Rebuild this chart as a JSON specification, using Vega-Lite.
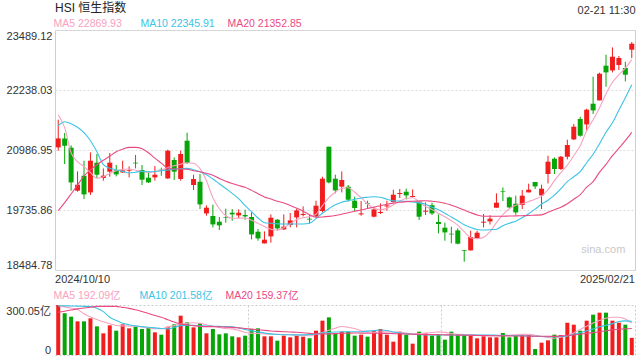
{
"$schema": "https://vega.github.io/schema/vega-lite/v6.json",
"padding": {"left": 5, "right": 6, "top": 1, "bottom": 5},
"background": "white",
"title": {"text": "02-21 11:30", "anchor": "end", "fontSize": 11, "fontWeight": "normal", "color": "#333", "offset": -14},
"datasets": {"hsi": [
{"d":"2024/10/10","o":21041.2,"h":21618.8,"l":20972.4,"c":21228.8,"v":300.05,"p5":21723,"p10":21494,"p20":19721,"v5":295.8,"v10":295.8,"v20":255.6},
{"d":"2024/10/14","o":21228.8,"h":21341.4,"l":20695.0,"c":21076.6,"v":250,"p5":21452,"p10":21577,"p20":19888,"v5":288.6,"v10":295,"v20":262.8},
{"d":"2024/10/15","o":21034.9,"h":21082.9,"l":20138.3,"c":20311.4,"v":230,"p5":20931,"p10":21535,"p20":20070,"v5":282,"v10":294,"v20":270},
{"d":"2024/10/16","o":20138.3,"h":20540.7,"l":20117.5,"c":20263.4,"v":202,"p5":20743,"p10":21462,"p20":20257,"v5":273,"v10":293.4,"v20":276.6},
{"d":"2024/10/17","o":20451.1,"h":20763.8,"l":19965.2,"c":20061.2,"v":202,"p5":20639,"p10":21348,"p20":20445,"v5":247,"v10":292,"v20":282},
{"d":"2024/10/18","o":20102.9,"h":20936.9,"l":20048.7,"c":20763.8,"v":220,"p5":20514,"p10":21181,"p20":20572,"v5":227.4,"v10":291,"v20":286.8},
{"d":"2024/10/21","o":20722.1,"h":20903.5,"l":20403.1,"c":20471.9,"v":172,"p5":20399,"p10":20952,"p20":20680,"v5":213,"v10":281,"v20":291.6},
{"d":"2024/10/22","o":20403.1,"h":20603.3,"l":20346.8,"c":20451.1,"v":130,"p5":20430,"p10":20680,"p20":20774,"v5":199.8,"v10":260,"v20":291.6},
{"d":"2024/10/23","o":20534.5,"h":20924.4,"l":20430.2,"c":20722.1,"v":178,"p5":20503,"p10":20608,"p20":20858,"v5":187.8,"v10":227,"v20":291.6},
{"d":"2024/10/24","o":20561.6,"h":20674.2,"l":20436.5,"c":20478.2,"v":146,"p5":20555,"p10":20576,"p20":20952,"v5":177,"v10":207.6,"v20":291.6},
{"d":"2024/10/25","o":20519.9,"h":20763.8,"l":20507.4,"c":20561.6,"v":184,"p5":20587,"p10":20541,"p20":21004,"v5":174.6,"v10":191,"v20":286},
{"d":"2024/10/28","o":20555.3,"h":20645.0,"l":20415.6,"c":20569.9,"v":160,"p5":20591,"p10":20507,"p20":21041,"v5":173.4,"v10":182,"v20":280},
{"d":"2024/10/29","o":20722.1,"h":20882.7,"l":20603.3,"c":20707.5,"v":170,"p5":20566,"p10":20524,"p20":21041,"v5":172.2,"v10":174.6,"v20":272},
{"d":"2024/10/30","o":20569.9,"h":20674.2,"l":20257.2,"c":20367.7,"v":156,"p5":20541,"p10":20541,"p20":21014,"v5":168,"v10":170.4,"v20":261},
{"d":"2024/10/31","o":20409.4,"h":20534.5,"l":20298.9,"c":20311.4,"v":162,"p5":20520,"p10":20535,"p20":20931,"v5":162.6,"v10":166.8,"v20":249},
{"d":"2024/11/01","o":20415.6,"h":20653.3,"l":20346.8,"c":20471.9,"v":136,"p5":20535,"p10":20539,"p20":20816,"v5":157.8,"v10":163,"v20":237.6},
{"d":"2024/11/04","o":20576.2,"h":20617.9,"l":20451.1,"c":20561.6,"v":122,"p5":20566,"p10":20555,"p20":20712,"v5":157.8,"v10":159,"v20":226},
{"d":"2024/11/05","o":20394.8,"h":20993.2,"l":20382.3,"c":20972.4,"v":170,"p5":20624,"p10":20570,"p20":20608,"v5":167.4,"v10":157,"v20":212},
{"d":"2024/11/06","o":20778.4,"h":20832.6,"l":20361.4,"c":20534.5,"v":184,"p5":20660,"p10":20587,"p20":20591,"v5":176.4,"v10":166,"v20":198},
{"d":"2024/11/07","o":20382.3,"h":20972.4,"l":20346.8,"c":20903.5,"v":236,"p5":20691,"p10":20597,"p20":20591,"v5":186,"v10":176.4,"v20":186},
{"d":"2024/11/08","o":21180.9,"h":21347.7,"l":20695.0,"c":20715.9,"v":196,"p5":20722,"p10":20603,"p20":20587,"v5":190.2,"v10":179.4,"v20":181},
{"d":"2024/11/11","o":20257.2,"h":20471.9,"l":20152.9,"c":20382.3,"v":166,"p5":20712,"p10":20576,"p20":20555,"v5":193.8,"v10":177.6,"v20":176},
{"d":"2024/11/12","o":20326.0,"h":20486.5,"l":19756.7,"c":19852.7,"v":190,"p5":20597,"p10":20535,"p20":20535,"v5":190.8,"v10":175.8,"v20":171.6},
{"d":"2024/11/13","o":19665.0,"h":19831.8,"l":19617.0,"c":19783.8,"v":130,"p5":20347,"p10":20472,"p20":20503,"v5":181.8,"v10":174,"v20":170},
{"d":"2024/11/14","o":19610.8,"h":19846.4,"l":19373.1,"c":19435.6,"v":156,"p5":19992,"p10":20382,"p20":20462,"v5":172.8,"v10":172.8,"v20":170},
{"d":"2024/11/15","o":19491.9,"h":19589.9,"l":19318.9,"c":19414.8,"v":124,"p5":19763,"p10":20284,"p20":20393,"v5":165,"v10":171.6,"v20":168.6},
{"d":"2024/11/18","o":19581.6,"h":19763.0,"l":19471.1,"c":19569.1,"v":130,"p5":19617,"p10":20184,"p20":20336,"v5":159,"v10":170.4,"v20":167.4},
{"d":"2024/11/19","o":19679.6,"h":19756.7,"l":19512.8,"c":19644.1,"v":112,"p5":19565,"p10":20082,"p20":20288,"v5":156.6,"v10":169.8,"v20":166},
{"d":"2024/11/20","o":19623.3,"h":19748.4,"l":19569.1,"c":19679.6,"v":106,"p5":19565,"p10":19972,"p20":20247,"v5":147.6,"v10":162.6,"v20":162.6},
{"d":"2024/11/21","o":19631.6,"h":19742.1,"l":19533.6,"c":19602.4,"v":116,"p5":19569,"p10":19826,"p20":20209,"v5":135,"v10":153,"v20":159},
{"d":"2024/11/22","o":19589.9,"h":19685.8,"l":19122.9,"c":19227.1,"v":156,"p5":19523,"p10":19700,"p20":20145,"v5":130.8,"v10":144.6,"v20":155.4},
{"d":"2024/11/25","o":19283.4,"h":19339.7,"l":19095.8,"c":19143.7,"v":160,"p5":19457,"p10":19569,"p20":20076,"v5":129,"v10":138.6,"v20":151.8},
{"d":"2024/11/26","o":19039.5,"h":19289.7,"l":19039.5,"c":19116.6,"v":112,"p5":19392,"p10":19471,"p20":20009,"v5":126.6,"v10":132,"v20":147.6},
{"d":"2024/11/27","o":19185.4,"h":19644.1,"l":19054.1,"c":19575.3,"v":112,"p5":19336,"p10":19461,"p20":19965,"v5":124.8,"v10":126.6,"v20":144},
{"d":"2024/11/28","o":19533.6,"h":19548.2,"l":19318.9,"c":19352.2,"v":86,"p5":19315,"p10":19446,"p20":19919,"v5":123.6,"v10":124.2,"v20":141.6},
{"d":"2024/11/29","o":19331.4,"h":19644.1,"l":19318.9,"c":19387.7,"v":116,"p5":19367,"p10":19444,"p20":19882,"v5":123,"v10":121.8,"v20":139.8},
{"d":"2024/12/02","o":19423.1,"h":19673.3,"l":19373.1,"c":19519.0,"v":106,"p5":19450,"p10":19444,"p20":19832,"v5":121.8,"v10":121.2,"v20":138},
{"d":"2024/12/03","o":19581.6,"h":19756.7,"l":19373.1,"c":19727.5,"v":116,"p5":19538,"p10":19444,"p20":19773,"v5":120,"v10":120.6,"v20":136.8},
{"d":"2024/12/04","o":19631.6,"h":19811.0,"l":19602.4,"c":19652.5,"v":110,"p5":19575,"p10":19444,"p20":19711,"v5":118.2,"v10":120.6,"v20":133.8},
{"d":"2024/12/05","o":19554.5,"h":19631.6,"l":19456.5,"c":19539.9,"v":100,"p5":19596,"p10":19461,"p20":19638,"v5":115.8,"v10":123,"v20":129.6},
{"d":"2024/12/06","o":19602.4,"h":19929.8,"l":19581.6,"c":19825.5,"v":146,"p5":19648,"p10":19555,"p20":19586,"v5":124.2,"v10":125.4,"v20":126.6},
{"d":"2024/12/09","o":19715.0,"h":20430.2,"l":19685.8,"c":20388.5,"v":206,"p5":19826,"p10":19669,"p20":19590,"v5":135.6,"v10":132.6,"v20":126},
{"d":"2024/12/10","o":21055.8,"h":21055.8,"l":20290.5,"c":20311.4,"v":226,"p5":19992,"p10":19763,"p20":19602,"v5":148.2,"v10":135,"v20":127},
{"d":"2024/12/11","o":20388.5,"h":20471.9,"l":20082.0,"c":20144.6,"v":132,"p5":20107,"p10":19846,"p20":19621,"v5":160.8,"v10":138,"v20":128.4},
{"d":"2024/12/12","o":20221.7,"h":20540.7,"l":20102.9,"c":20361.4,"v":140,"p5":20190,"p10":19899,"p20":19648,"v5":171,"v10":139.8,"v20":130},
{"d":"2024/12/13","o":20221.7,"h":20257.2,"l":19908.9,"c":19950.7,"v":140,"p5":20201,"p10":19930,"p20":19680,"v5":166.8,"v10":139.8,"v20":131.4},
{"d":"2024/12/16","o":19929.8,"h":20013.2,"l":19715.0,"c":19777.6,"v":116,"p5":20107,"p10":19961,"p20":19711,"v5":159,"v10":139.8,"v20":132},
{"d":"2024/12/17","o":19644.1,"h":19923.5,"l":19617.0,"c":19665.0,"v":122,"p5":19992,"p10":19986,"p20":19736,"v5":145.2,"v10":139.8,"v20":131.4},
{"d":"2024/12/18","o":19873.5,"h":19929.8,"l":19777.6,"c":19861.0,"v":110,"p5":19861,"p10":20001,"p20":19767,"v5":140.4,"v10":143.4,"v20":131},
{"d":"2024/12/19","o":19596.2,"h":19804.7,"l":19581.6,"c":19748.4,"v":146,"p5":19773,"p10":20013,"p20":19794,"v5":135.6,"v10":146.4,"v20":130.4},
{"d":"2024/12/20","o":19673.3,"h":19873.5,"l":19652.5,"c":19694.2,"v":156,"p5":19742,"p10":20003,"p20":19826,"v5":138,"v10":150,"v20":130.2},
{"d":"2024/12/23","o":19811.0,"h":19929.8,"l":19721.3,"c":19831.8,"v":122,"p5":19773,"p10":19961,"p20":19857,"v5":139.8,"v10":147,"v20":129.6},
{"d":"2024/12/24","o":19902.7,"h":20159.2,"l":19888.1,"c":20054.9,"v":80,"p5":19846,"p10":19926,"p20":19880,"v5":138,"v10":138,"v20":128.4},
{"d":"2024/12/27","o":20069.5,"h":20173.8,"l":19986.1,"c":20090.4,"v":140,"p5":19919,"p10":19922,"p20":19896,"v5":136.2,"v10":132.6,"v20":127.2},
{"d":"2024/12/30","o":20117.5,"h":20180.0,"l":19956.9,"c":20040.3,"v":122,"p5":19982,"p10":19915,"p20":19911,"v5":131.4,"v10":127.2,"v20":126},
{"d":"2024/12/31","o":20007.0,"h":20165.4,"l":19998.6,"c":20027.8,"v":68,"p5":19992,"p10":19903,"p20":19917,"v5":126.6,"v10":124.2,"v20":124.8},
{"d":"2025/01/02","o":19915.2,"h":19929.8,"l":19527.4,"c":19596.2,"v":140,"p5":19909,"p10":19884,"p20":19924,"v5":128.4,"v10":122.4,"v20":123.6},
{"d":"2025/01/03","o":19700.4,"h":19894.4,"l":19631.6,"c":19721.3,"v":130,"p5":19809,"p10":19857,"p20":19930,"v5":131.4,"v10":120.6,"v20":123},
{"d":"2025/01/06","o":19836.0,"h":19888.1,"l":19631.6,"c":19665.0,"v":116,"p5":19746,"p10":19794,"p20":19919,"v5":135,"v10":120,"v20":122.4},
{"d":"2025/01/07","o":19485.7,"h":19644.1,"l":19248.0,"c":19444.0,"v":126,"p5":19669,"p10":19742,"p20":19901,"v5":138.6,"v10":120,"v20":121.8},
{"d":"2025/01/08","o":19366.8,"h":19471.1,"l":19095.8,"c":19268.8,"v":92,"p5":19596,"p10":19669,"p20":19878,"v5":135.6,"v10":120,"v20":121},
{"d":"2025/01/09","o":19241.7,"h":19387.7,"l":19039.5,"c":19227.1,"v":140,"p5":19513,"p10":19590,"p20":19836,"v5":129,"v10":120,"v20":120},
{"d":"2025/01/10","o":19310.5,"h":19352.2,"l":19018.6,"c":19033.2,"v":124,"p5":19419,"p10":19513,"p20":19788,"v5":124.8,"v10":120,"v20":119.4},
{"d":"2025/01/13","o":18901.8,"h":18901.8,"l":18657.9,"c":18887.2,"v":122,"p5":19283,"p10":19429,"p20":19734,"v5":123,"v10":120,"v20":118.8},
{"d":"2025/01/14","o":18893.5,"h":19304.3,"l":18893.5,"c":19172.9,"v":116,"p5":19158,"p10":19373,"p20":19680,"v5":121.2,"v10":120,"v20":118},
{"d":"2025/01/15","o":19143.7,"h":19304.3,"l":19143.7,"c":19262.6,"v":100,"p5":19138,"p10":19331,"p20":19634,"v5":119.4,"v10":120,"v20":117},
{"d":"2025/01/16","o":19471.1,"h":19652.5,"l":19373.1,"c":19491.9,"v":112,"p5":19165,"p10":19319,"p20":19607,"v5":118.2,"v10":120,"v20":116.4},
{"d":"2025/01/17","o":19498.2,"h":19627.5,"l":19433.6,"c":19554.5,"v":106,"p5":19283,"p10":19325,"p20":19607,"v5":115.8,"v10":120,"v20":115.8},
{"d":"2025/01/20","o":19783.8,"h":20082.0,"l":19783.8,"c":19888.1,"v":106,"p5":19471,"p10":19336,"p20":19607,"v5":115.8,"v10":118.8,"v20":115.2},
{"d":"2025/01/21","o":20123.7,"h":20207.1,"l":19923.5,"c":20111.2,"v":132,"p5":19638,"p10":19409,"p20":19607,"v5":117,"v10":118,"v20":114.6},
{"d":"2025/01/22","o":19998.6,"h":20013.2,"l":19777.6,"c":19790.1,"v":106,"p5":19763,"p10":19461,"p20":19611,"v5":118.8,"v10":117,"v20":114.6},
{"d":"2025/01/23","o":19867.2,"h":20034.1,"l":19637.9,"c":19685.8,"v":120,"p5":19836,"p10":19502,"p20":19613,"v5":121,"v10":116.4,"v20":114},
{"d":"2025/01/24","o":19840.1,"h":20152.9,"l":19756.7,"c":20034.1,"v":122,"p5":19867,"p10":19575,"p20":19617,"v5":123.6,"v10":115.8,"v20":114},
{"d":"2025/01/27","o":20102.9,"h":20284.3,"l":20102.9,"c":20159.2,"v":120,"p5":19913,"p10":19659,"p20":19621,"v5":124.8,"v10":114,"v20":113.4},
{"d":"2025/01/28","o":20319.7,"h":20319.7,"l":20173.8,"c":20228.0,"v":36,"p5":19961,"p10":19753,"p20":19628,"v5":118.2,"v10":112.8,"v20":112.8},
{"d":"2025/02/03","o":20040.3,"h":20263.4,"l":19756.7,"c":20180.0,"v":74,"p5":20024,"p10":19857,"p20":19634,"v5":111,"v10":111,"v20":112.2},
{"d":"2025/02/04","o":20486.5,"h":20868.1,"l":20290.5,"c":20743.0,"v":88,"p5":20159,"p10":19940,"p20":19688,"v5":105.6,"v10":109.8,"v20":112.2},
{"d":"2025/02/05","o":20805.5,"h":20832.6,"l":20486.5,"c":20590.8,"v":122,"p5":20347,"p10":20045,"p20":19742,"v5":100.2,"v10":110.4,"v20":111.6},
{"d":"2025/02/06","o":20590.8,"h":20861.8,"l":20569.9,"c":20847.2,"v":120,"p5":20514,"p10":20180,"p20":19794,"v5":107.4,"v10":111,"v20":114.6},
{"d":"2025/02/07","o":20847.2,"h":21201.7,"l":20790.9,"c":21091.2,"v":194,"p5":20670,"p10":20326,"p20":19867,"v5":115.2,"v10":115,"v20":117},
{"d":"2025/02/10","o":21208.0,"h":21529.1,"l":21195.5,"c":21472.8,"v":182,"p5":20868,"p10":20430,"p20":19961,"v5":133.8,"v10":124,"v20":120},
{"d":"2025/02/11","o":21633.3,"h":21681.3,"l":21264.3,"c":21285.1,"v":146,"p5":21077,"p10":20535,"p20":20055,"v5":153,"v10":134,"v20":124.8},
{"d":"2025/02/12","o":21520.7,"h":21848.1,"l":21404.0,"c":21827.2,"v":206,"p5":21389,"p10":20722,"p20":20211,"v5":172.8,"v10":145.8,"v20":129.6},
{"d":"2025/02/13","o":21952.3,"h":22515.3,"l":21737.6,"c":21812.6,"v":242,"p5":21619,"p10":20899,"p20":20326,"v5":192,"v10":156,"v20":134.4},
{"d":"2025/02/14","o":22021.2,"h":22598.7,"l":22021.2,"c":22577.9,"v":254,"p5":21869,"p10":21118,"p20":20524,"v5":206.4,"v10":169.8,"v20":139.8},
{"d":"2025/02/17","o":22744.7,"h":22974.0,"l":22306.8,"c":22605.0,"v":254,"p5":22161,"p10":21358,"p20":20687,"v5":220.2,"v10":178,"v20":145.8},
{"d":"2025/02/18","o":22646.7,"h":23126.3,"l":22605.0,"c":22932.3,"v":206,"p5":22401,"p10":21556,"p20":20868,"v5":226.2,"v10":188.4,"v20":150.6},
{"d":"2025/02/19","o":22759.3,"h":22946.9,"l":22655.0,"c":22905.2,"v":194,"p5":22557,"p10":21817,"p20":21025,"v5":226.2,"v10":201,"v20":154.8},
{"d":"2025/02/20","o":22696.7,"h":22828.1,"l":22417.3,"c":22557.0,"v":182,"p5":22693,"p10":22078,"p20":21181,"v5":215.4,"v10":204.6,"v20":156.6},
{"d":"2025/02/21","o":23078.3,"h":23238.9,"l":22905.2,"c":23203.4,"v":103,"p5":22869.93,"p10":22345.91,"p20":21352.85,"v5":192.09,"v10":201.58,"v20":159.37}
]},
"config": {
  "font": "Liberation Sans, Noto Sans CJK SC, sans-serif",
  "view": {"stroke": null},
  "axis": {"labelFontSize": 11, "labelColor": "#333", "domain": false, "ticks": false, "title": null},
  "legend": {"orient": "none", "legendX": -12, "direction": "horizontal", "columns": 3, "gridAlign": "all", "columnPadding": 2, "symbolSize": 1, "symbolOpacity": 0, "symbolStrokeWidth": 0, "labelOffset": 0, "labelFontSize": 10.5, "padding": 0},
  "concat": {"spacing": 6}
},
"resolve": {"scale": {"color": "independent"}, "legend": {"color": "independent"}},
"vconcat": [
{
  "width": 580, "height": 240,
  "title": {"text": "HSI 恒生指数", "anchor": "start", "frame": "group", "fontSize": 12, "fontWeight": "normal", "color": "#222", "offset": 4},
  "view": {"stroke": "#cfcfcf"},
  "data": {"name": "hsi"},
  "encoding": {"x": {"field": "d", "type": "ordinal", "scale": {"type": "band", "paddingInner": 0, "paddingOuter": 0},
    "axis": {"values": ["2024/10/10", "2025/02/21"], "labelAngle": 0, "labelFlush": 10, "labelFlushOffset": 3.2, "labelPadding": 3.5, "grid": false}}},
  "layer": [
    {"mark": {"type": "rule", "strokeWidth": 1},
     "encoding": {
       "y": {"field": "l", "type": "quantitative", "scale": {"domain": [18484.78, 23489.12], "nice": false, "zero": false},
         "axis": {"values": [18484.78, 19735.86, 20986.95, 22238.03, 23489.12], "format": ".2f", "grid": true, "gridDash": [2, 2], "gridColor": "#dddddd", "labelFlush": true, "labelPadding": 3}},
       "y2": {"field": "h"},
       "color": {"condition": {"test": "datum.c >= datum.o", "value": "#f21d1d"}, "value": "#07a507"}}},
    {"mark": {"type": "bar", "width": 5},
     "encoding": {
       "y": {"field": "o", "type": "quantitative"},
       "y2": {"field": "c"},
       "color": {"condition": {"test": "datum.c >= datum.o", "value": "#f21d1d"}, "value": "#07a507"}}},
    {"transform": [{"fold": ["p5", "p10", "p20"], "as": ["ma", "val"]}],
     "mark": {"type": "line", "strokeWidth": 1.1, "interpolate": "monotone"},
     "encoding": {
       "y": {"field": "val", "type": "quantitative"},
       "color": {"field": "ma", "type": "nominal", "scale": {"domain": ["p5", "p10", "p20"], "range": ["#f7a2c0", "#3cc4e4", "#ea4a83"]},
         "legend": {"title": null, "legendY": -11,
           "labelExpr": "datum.value == 'p5' ? 'MA5 22869.93' : datum.value == 'p10' ? 'MA10 22345.91' : 'MA20 21352.85'",
           "labelColor": {"expr": "datum.value == 'p5' ? '#f7a2c0' : datum.value == 'p10' ? '#3cc4e4' : '#ea4a83'"}}}}},
    {"data": {"values": [{"t": "sina.com"}]},
     "mark": {"type": "text", "align": "right", "baseline": "middle", "fontSize": 11, "color": "#c8c8c8"},
     "encoding": {"x": {"datum": "2025/02/20"}, "y": {"datum": 18900}, "text": {"field": "t"}}}
  ]
},
{
  "width": 580, "height": 50,
  "data": {"name": "hsi"},
  "encoding": {"x": {"field": "d", "type": "ordinal", "scale": {"type": "band", "paddingInner": 0, "paddingOuter": 0},
    "axis": {"values": ["2024/11/21", "2025/01/07", "2025/02/21"], "bandPosition": 1, "labels": false, "grid": true, "gridDash": [2, 2], "gridColor": "#cccccc"}}},
  "layer": [
    {"mark": {"type": "bar", "width": 4},
     "encoding": {
       "y": {"field": "v", "type": "quantitative", "scale": {"domain": [0, 300.05], "nice": false},
         "axis": {"values": [0, 300.05], "labelExpr": "datum.value == 0 ? '0' : format(datum.value, '.2f') + '亿'", "grid": true, "gridDash": [2, 2], "gridColor": "#cccccc", "labelFlush": true, "labelPadding": 4.5}},
       "color": {"condition": {"test": "datum.c >= datum.o", "value": "#f21d1d"}, "value": "#07a507"}}},
    {"transform": [{"fold": ["v5", "v10", "v20"], "as": ["ma", "val"]}],
     "mark": {"type": "line", "strokeWidth": 1.1, "interpolate": "monotone"},
     "encoding": {
       "y": {"field": "val", "type": "quantitative"},
       "color": {"field": "ma", "type": "nominal", "scale": {"domain": ["v5", "v10", "v20"], "range": ["#f7a2c0", "#3cc4e4", "#ea4a83"]},
         "legend": {"title": null, "legendY": -14,
           "labelExpr": "datum.value == 'v5' ? 'MA5 192.09亿' : datum.value == 'v10' ? 'MA10 201.58亿' : 'MA20 159.37亿'",
           "labelColor": {"expr": "datum.value == 'v5' ? '#f7a2c0' : datum.value == 'v10' ? '#3cc4e4' : '#ea4a83'"}}}}}
  ]
}
]
}
